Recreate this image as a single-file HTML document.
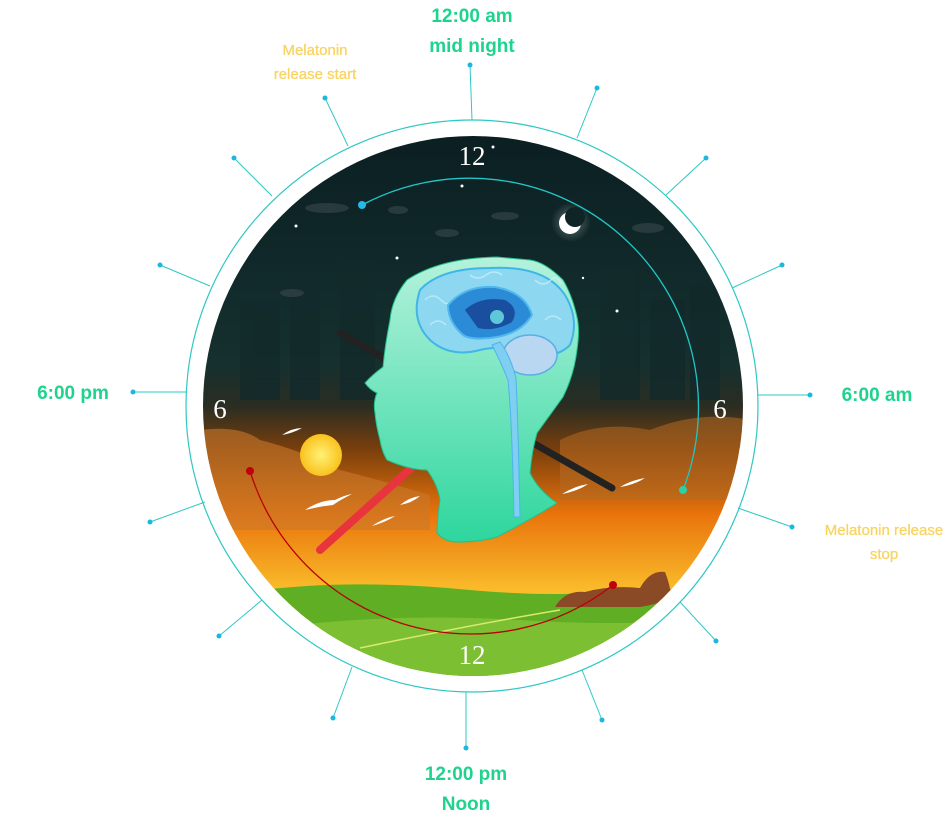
<!DOCTYPE html>
<html><head><meta charset="utf-8"><style>
html,body{margin:0;padding:0;background:#fff;width:952px;height:818px;overflow:hidden}
svg{display:block}
.g{font-family:"Liberation Sans",sans-serif;font-weight:bold;fill:#1ed38e;font-size:19px}
.y{font-family:"Liberation Sans",sans-serif;fill:#f8d462;font-size:15px;stroke:#f8d462;stroke-width:0.3}
.n{font-family:"Liberation Serif",serif;fill:#fff;font-size:27px}
</style></head><body>
<svg width="952" height="818" viewBox="0 0 952 818" xmlns="http://www.w3.org/2000/svg">
<defs>
<linearGradient id="sk" x1="0" y1="135" x2="0" y2="677" gradientUnits="userSpaceOnUse">
<stop offset="0" stop-color="#0b1f22"/>
<stop offset="0.42" stop-color="#15302f"/>
<stop offset="0.5" stop-color="#2a2d22"/>
<stop offset="0.58" stop-color="#7a3f0c"/>
<stop offset="0.7" stop-color="#e9740c"/>
<stop offset="0.85" stop-color="#fbc12d"/>
<stop offset="1" stop-color="#fbd040"/>
</linearGradient>
<linearGradient id="hd" x1="0" y1="257" x2="0" y2="542" gradientUnits="userSpaceOnUse">
<stop offset="0" stop-color="#b4f2dc"/><stop offset="1" stop-color="#2ed69e"/>
</linearGradient>
<radialGradient id="sun"><stop offset="0" stop-color="#fff176"/><stop offset="1" stop-color="#f9c21e"/></radialGradient>
<radialGradient id="glow"><stop offset="0" stop-color="#fff" stop-opacity="0.35"/><stop offset="1" stop-color="#fff" stop-opacity="0"/></radialGradient>
<clipPath id="cc"><circle cx="473" cy="406" r="270"/></clipPath>
</defs>
<circle cx="472" cy="406" r="286" stroke="#2ec8c4" stroke-width="1.2" fill="none"/>
<g clip-path="url(#cc)">
<rect x="190" y="130" width="570" height="560" fill="url(#sk)"/>
<g fill="#132a2b" opacity="0.8">
<rect x="240" y="300" width="40" height="100"/><rect x="290" y="280" width="30" height="120"/><rect x="340" y="260" width="35" height="140"/>
<rect x="600" y="270" width="40" height="130"/><rect x="650" y="300" width="35" height="100"/><rect x="690" y="285" width="30" height="115"/>
</g>
<g fill="#3a4a4c" opacity="0.6">
<ellipse cx="327" cy="208" rx="22" ry="5"/><ellipse cx="398" cy="210" rx="10" ry="4"/><ellipse cx="505" cy="216" rx="14" ry="4"/><ellipse cx="447" cy="233" rx="12" ry="4"/><ellipse cx="648" cy="228" rx="16" ry="5"/><ellipse cx="292" cy="293" rx="12" ry="4"/><ellipse cx="666" cy="183" rx="20" ry="4"/>
</g>
<path d="M200 430 Q240 425 260 440 Q300 450 340 470 Q380 480 430 495 L430 530 L200 530 Z" fill="#c9782c" opacity="0.6"/>
<path d="M560 440 Q600 420 650 430 Q700 410 750 420 L750 500 L560 500 Z" fill="#b56a22" opacity="0.55"/>
<path d="M200 600 Q320 575 470 590 Q560 598 620 590 Q700 585 750 600 L750 690 L200 690 Z" fill="#5fae23"/>
<path d="M200 640 Q350 610 520 620 Q640 628 750 615 L750 690 L200 690 Z" fill="#7cbf32"/>
<path d="M360 648 Q470 625 560 610" stroke="#d9e870" stroke-width="1.5" fill="none"/>
<path d="M555 607 Q565 590 585 592 Q610 585 640 588 Q650 570 665 572 Q672 590 670 598 Q655 605 640 607 Z" fill="#8a4a26"/>
<g fill="#fff"><circle cx="462" cy="186" r="1.5"/><circle cx="397" cy="258" r="1.5"/><circle cx="617" cy="311" r="1.5"/><circle cx="296" cy="226" r="1.5"/><circle cx="493" cy="147" r="1.5"/><circle cx="613" cy="151" r="1.2"/><circle cx="583" cy="278" r="1.2"/></g>
<circle cx="571" cy="222" r="20" fill="url(#glow)"/>
<circle cx="570" cy="223" r="11" fill="#fff"/>
<circle cx="575" cy="217" r="10" fill="#0f2427"/>
<circle cx="321" cy="455" r="21" fill="url(#sun)"/>
<g fill="#fff">
<path d="M305 510 Q320 500 335 500 Q345 495 352 494 Q340 500 333 505 Q322 506 305 510Z"/>
<path d="M372 526 Q384 518 395 516 Q386 522 372 526Z"/>
<path d="M400 505 Q410 497 420 496 Q412 503 400 505Z"/>
<path d="M282 435 Q292 428 302 428 Q293 433 282 435Z"/>
<path d="M562 494 Q575 486 588 484 Q578 491 562 494Z"/>
<path d="M620 487 Q632 480 645 478 Q634 485 620 487Z"/>
</g>
<line x1="340" y1="333" x2="612" y2="488" stroke="#222" stroke-width="7" stroke-linecap="round"/>
<line x1="320" y1="550" x2="418" y2="462" stroke="#e8343c" stroke-width="8" stroke-linecap="round"/>
<path d="M497 257 Q440 258 407 280 Q392 298 390 320 Q385 345 383 367 Q372 375 365 383 Q370 390 377 393 Q373 402 375 413 Q376 425 380 440 Q382 452 387 460 Q410 470 427 470 Q438 485 440 500 Q437 520 437 533 Q445 542 457 542 Q480 542 497 537 Q530 520 557 503 Q538 490 530 473 Q532 450 537 433 Q550 415 563 397 Q574 375 577 350 Q580 330 577 317 Q572 295 563 280 Q545 262 530 260 Z" fill="url(#hd)" stroke="#22c08c" stroke-width="1"/>
<path d="M420 290 Q440 268 490 268 Q545 265 565 295 Q580 320 570 345 Q555 360 530 352 Q500 345 480 350 Q450 358 430 340 Q410 320 420 290Z" fill="#8ed7f0" stroke="#3fb6e6" stroke-width="2"/>
<g fill="none" stroke="#c6effa" stroke-width="1.5" opacity="0.8">
<path d="M425 300 q8 -8 16 0 q8 8 16 0"/><path d="M430 325 q8 -8 16 0"/><path d="M535 280 q8 8 16 0 q6 -6 10 4"/><path d="M545 320 q8 -8 16 0"/><path d="M470 275 q8 6 16 0 q8 -6 16 0"/>
</g>
<path d="M448 305 Q465 285 495 287 Q525 292 532 315 Q520 335 490 338 Q470 340 463 335 Q448 322 448 305Z" fill="#2b8bd6" stroke="#51b8ee" stroke-width="2"/>
<path d="M465 310 Q480 296 505 300 Q520 308 512 322 Q495 332 478 328 Z" fill="#1a4e9e"/>
<circle cx="497" cy="317" r="7" fill="#5fc8d8"/>
<ellipse cx="530" cy="355" rx="27" ry="20" fill="#b9d7f0" stroke="#5aaee6" stroke-width="1.5"/>
<path d="M492 345 Q500 360 508 380 Q512 420 514 517 L520 517 Q518 420 516 378 Q510 355 500 342 Z" fill="#7fcff2" stroke="#4fb4e8" stroke-width="1"/>
<text class="n" x="472" y="165" text-anchor="middle">12</text>
<text class="n" x="220" y="418" text-anchor="middle">6</text>
<text class="n" x="720" y="418" text-anchor="middle">6</text>
<text class="n" x="472" y="664" text-anchor="middle">12</text>
</g>
<path d="M362 205 A229 229 0 0 1 683 490" stroke="#22c6c6" stroke-width="1.3" fill="none"/>
<circle cx="362" cy="205" r="4" fill="#26b8e8"/><circle cx="683" cy="490" r="4" fill="#2bd0a8"/>
<path d="M250 471 A231 231 0 0 0 613 585" stroke="#b8000a" stroke-width="1.3" fill="none"/>
<circle cx="250" cy="471" r="4" fill="#c0000c"/><circle cx="613" cy="585" r="4" fill="#c0000c"/>
<g stroke="#2ec8c4" stroke-width="1">
<line x1="472" y1="120" x2="470" y2="65"/>
<line x1="577" y1="138" x2="597" y2="88"/>
<line x1="666" y1="195" x2="706" y2="158"/>
<line x1="732" y1="288" x2="782" y2="265"/>
<line x1="758" y1="395" x2="810" y2="395"/>
<line x1="738" y1="508" x2="792" y2="527"/>
<line x1="680" y1="602" x2="716" y2="641"/>
<line x1="582" y1="670" x2="602" y2="720"/>
<line x1="466" y1="692" x2="466" y2="748"/>
<line x1="352" y1="667" x2="333" y2="718"/>
<line x1="262" y1="600" x2="219" y2="636"/>
<line x1="205" y1="502" x2="150" y2="522"/>
<line x1="186" y1="392" x2="133" y2="392"/>
<line x1="210" y1="286" x2="160" y2="265"/>
<line x1="272" y1="196" x2="234" y2="158"/>
<line x1="348" y1="146" x2="325" y2="98"/>
</g>
<g fill="#1ab8e0">
<circle cx="470" cy="65" r="2.5"/><circle cx="597" cy="88" r="2.5"/><circle cx="706" cy="158" r="2.5"/><circle cx="782" cy="265" r="2.5"/><circle cx="810" cy="395" r="2.5"/><circle cx="792" cy="527" r="2.5"/><circle cx="716" cy="641" r="2.5"/><circle cx="602" cy="720" r="2.5"/><circle cx="466" cy="748" r="2.5"/><circle cx="333" cy="718" r="2.5"/><circle cx="219" cy="636" r="2.5"/><circle cx="150" cy="522" r="2.5"/><circle cx="133" cy="392" r="2.5"/><circle cx="160" cy="265" r="2.5"/><circle cx="234" cy="158" r="2.5"/><circle cx="325" cy="98" r="2.5"/>
</g>
<text class="g" x="472" y="22" text-anchor="middle">12:00 am</text>
<text class="g" x="472" y="52" text-anchor="middle">mid night</text>
<text class="y" x="315" y="55" text-anchor="middle">Melatonin</text>
<text class="y" x="315" y="79" text-anchor="middle">release start</text>
<text class="g" x="73" y="399" text-anchor="middle">6:00 pm</text>
<text class="g" x="877" y="401" text-anchor="middle">6:00 am</text>
<text class="y" x="884" y="535" text-anchor="middle">Melatonin release</text>
<text class="y" x="884" y="559" text-anchor="middle">stop</text>
<text class="g" x="466" y="780" text-anchor="middle">12:00 pm</text>
<text class="g" x="466" y="810" text-anchor="middle">Noon</text>
</svg>
</body></html>
